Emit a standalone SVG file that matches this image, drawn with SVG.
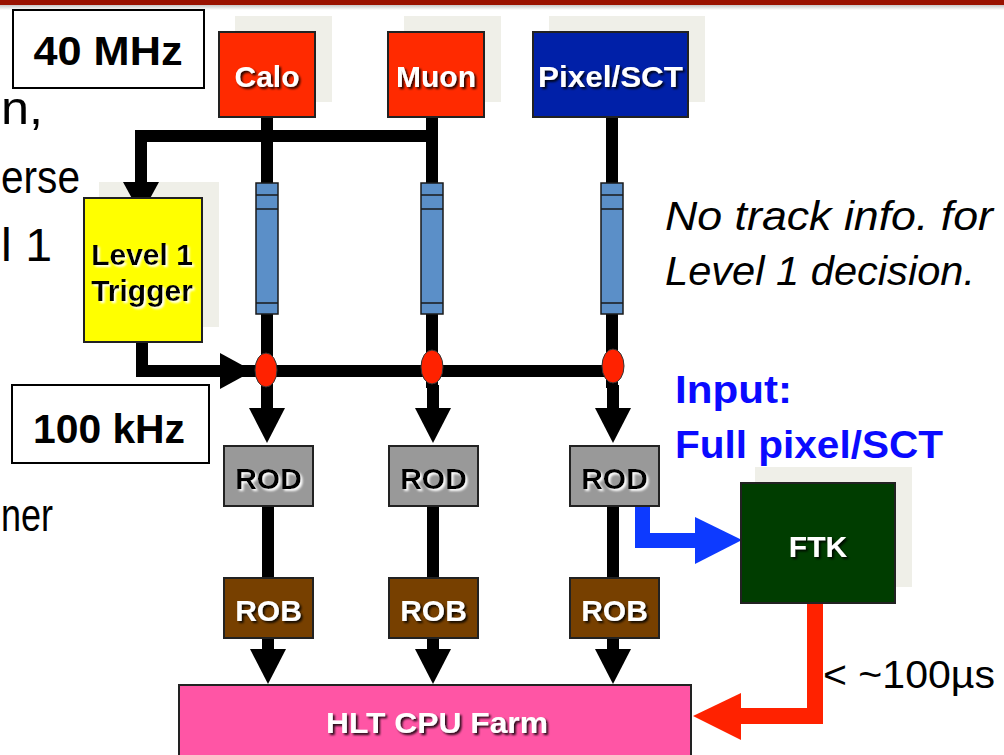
<svg xmlns="http://www.w3.org/2000/svg" width="1004" height="755" viewBox="0 0 1004 755">
<defs>
<filter id="ds" x="-20%" y="-20%" width="140%" height="140%"><feDropShadow dx="2" dy="2" stdDeviation="0.8" flood-color="#000" flood-opacity="0.85"/></filter>
<filter id="ws" x="-20%" y="-20%" width="140%" height="140%"><feDropShadow dx="2" dy="2" stdDeviation="0.8" flood-color="#fff" flood-opacity="1"/></filter>
<linearGradient id="topg" x1="0" y1="0" x2="0" y2="1"><stop offset="0" stop-color="#bbbbbb"/><stop offset="1" stop-color="#ffffff"/></linearGradient>
</defs>
<style>
.sh{fill:#efefe8}
.box{stroke:#222;stroke-width:2}
.wt{font-family:"Liberation Sans",Arial,sans-serif;font-weight:bold;font-size:30px;fill:#fff;text-anchor:middle;filter:url(#ds)}
.bt{font-family:"Liberation Sans",Arial,sans-serif;font-weight:bold;font-size:30px;fill:#000;text-anchor:middle;filter:url(#ws)}
.bg{font-family:"Liberation Sans",Arial,sans-serif;font-size:47px;fill:#000}
.rate{font-family:"Liberation Sans",Arial,sans-serif;font-weight:bold;font-size:40px;fill:#000;text-anchor:middle}
.ln{stroke:#000;stroke-width:12;fill:none}
.det{fill:#5b8fc8;stroke:#1a1a1a;stroke-width:1.5}
.band{stroke:#1a1a1a;stroke-width:1.5}
.node{fill:#ff2200;stroke:#333;stroke-width:1}
</style>
<rect x="0" y="0" width="1004" height="755" fill="#fff"/>
<rect x="0" y="4" width="1004" height="6" fill="url(#topg)"/>
<rect x="0" y="0" width="1004" height="5" fill="#991100"/>

<!-- background slide text fragments -->
<text class="bg" x="1" y="124" textLength="42" lengthAdjust="spacingAndGlyphs">n,</text>
<text class="bg" x="1" y="193" textLength="79" lengthAdjust="spacingAndGlyphs">erse</text>
<text class="bg" x="1" y="261" textLength="51" lengthAdjust="spacingAndGlyphs">l 1</text>
<text class="bg" x="1" y="531" textLength="52" lengthAdjust="spacingAndGlyphs">ner</text>

<g id="rate40">
<rect x="13" y="10" width="191" height="78" fill="#fff" stroke="#000" stroke-width="2"/>
<text class="rate" x="108" y="65" textLength="149" lengthAdjust="spacingAndGlyphs">40 MHz</text>
</g>
<g id="rate100">
<rect x="12" y="385" width="197" height="78" fill="#fff" stroke="#000" stroke-width="2"/>
<text class="rate" x="109" y="443" textLength="152" lengthAdjust="spacingAndGlyphs">100 kHz</text>
</g>

<g id="note">
<text font-family="'Liberation Sans',Arial,sans-serif" font-style="italic" font-size="40" fill="#000" x="665" y="230" textLength="328" lengthAdjust="spacingAndGlyphs">No track info. for</text>
<text font-family="'Liberation Sans',Arial,sans-serif" font-style="italic" font-size="40" fill="#000" x="665" y="285" textLength="310" lengthAdjust="spacingAndGlyphs">Level 1 decision.</text>
</g>
<g id="input-note">
<text font-family="'Liberation Sans',Arial,sans-serif" font-weight="bold" font-size="38" fill="#0a0aff" x="675" y="403" textLength="117" lengthAdjust="spacingAndGlyphs">Input:</text>
<text font-family="'Liberation Sans',Arial,sans-serif" font-weight="bold" font-size="38" fill="#0a0aff" x="675" y="458" textLength="268" lengthAdjust="spacingAndGlyphs">Full pixel/SCT</text>
</g>

<!-- shadows -->
<rect class="sh" x="235" y="16" width="97" height="86"/>
<rect class="sh" x="404" y="16" width="97" height="86"/>
<rect class="sh" x="549" y="16" width="156" height="86"/>
<rect class="sh" x="99" y="182" width="120" height="145"/>
<rect class="sh" x="755" y="467" width="157" height="120"/>

<g id="connectors">
<path class="ln" d="M141 182 V136 H438"/>
<path class="ln" d="M267 117 V183 M267 314 V390"/>
<path class="ln" d="M432 117 V183 M432 314 V388"/>
<path class="ln" d="M612 117 V183 M612 314 V388"/>
<path class="ln" d="M142 342 V371 H612"/>
<polygon points="123,182 159,182 141,215" fill="#000"/>
<polygon points="220,353 220,389 253,371" fill="#000"/>
<path class="ln" d="M267 385 V410 M433 385 V410 M613 385 V410"/>
<polygon points="249,408 285,408 267,443" fill="#000"/>
<polygon points="415,408 451,408 433,443" fill="#000"/>
<polygon points="595,408 631,408 613,443" fill="#000"/>
<path class="ln" d="M268 506 V578 M433 506 V578 M613 506 V578"/>
<path class="ln" d="M268 638 V651 M433 638 V651 M613 638 V651"/>
<polygon points="250,649 286,649 268,684" fill="#000"/>
<polygon points="415,649 451,649 433,684" fill="#000"/>
<polygon points="595,649 631,649 613,684" fill="#000"/>
<path d="M642.5 506 V540.5 H700" stroke="#0d3aff" stroke-width="15" fill="none"/>
<polygon points="695,517 695,564 742,540" fill="#0d3aff"/>
<path d="M815 603 V716 H738" stroke="#ff2200" stroke-width="16" fill="none"/>
<polygon points="741,693 741,740 693,716" fill="#ff2200"/>
</g>

<g id="detectors">
<g id="det-calo"><rect class="det" x="256" y="183" width="22" height="131"/><path class="band" d="M256 195 H278 M256 209 H278 M256 303 H278"/></g>
<g id="det-muon"><rect class="det" x="421" y="183" width="22" height="131"/><path class="band" d="M421 195 H443 M421 209 H443 M421 303 H443"/></g>
<g id="det-pixel"><rect class="det" x="601" y="183" width="22" height="131"/><path class="band" d="M601 195 H623 M601 209 H623 M601 303 H623"/></g>
</g>
<g id="junctions">
<ellipse class="node" cx="266" cy="370" rx="11" ry="17"/>
<ellipse class="node" cx="432" cy="367" rx="11" ry="17"/>
<ellipse class="node" cx="613" cy="366" rx="11" ry="17"/>
</g>

<g id="calo"><rect class="box" x="219" y="32" width="96" height="85" fill="#ff2a00"/><text class="wt" x="267" y="87">Calo</text></g>
<g id="muon"><rect class="box" x="388" y="32" width="96" height="85" fill="#ff2a00"/><text class="wt" x="436" y="87">Muon</text></g>
<g id="pixel"><rect class="box" x="533" y="32" width="155" height="85" fill="#0020a8"/><text class="wt" x="610.5" y="87" textLength="145" lengthAdjust="spacingAndGlyphs">Pixel/SCT</text></g>
<g id="level1"><rect class="box" x="84" y="198" width="118" height="144" fill="#ffff00"/><text class="bt" x="142" y="265">Level 1</text><text class="bt" x="142" y="301">Trigger</text></g>

<g id="rod-calo"><rect class="box" x="224" y="446" width="89" height="60" fill="#999"/><text class="bt" x="268.5" y="489">ROD</text></g>
<g id="rod-muon"><rect class="box" x="389" y="446" width="89" height="60" fill="#999"/><text class="bt" x="433.5" y="489">ROD</text></g>
<g id="rod-pixel"><rect class="box" x="570" y="446" width="89" height="60" fill="#999"/><text class="bt" x="614.5" y="489">ROD</text></g>

<g id="rob-calo"><rect class="box" x="224" y="578" width="89" height="60" fill="#774000"/><text class="wt" x="268.5" y="621">ROB</text></g>
<g id="rob-muon"><rect class="box" x="389" y="578" width="89" height="60" fill="#774000"/><text class="wt" x="433.5" y="621">ROB</text></g>
<g id="rob-pixel"><rect class="box" x="570" y="578" width="89" height="60" fill="#774000"/><text class="wt" x="614.5" y="621">ROB</text></g>

<g id="ftk"><rect class="box" x="741" y="483" width="154" height="120" fill="#003d00"/><text class="wt" x="818" y="557">FTK</text></g>
<g id="hlt"><rect class="box" x="179" y="685" width="512" height="80" fill="#ff55a5"/><text class="wt" x="437" y="733" textLength="222" lengthAdjust="spacingAndGlyphs">HLT CPU Farm</text></g>

<text font-family="'Liberation Sans',Arial,sans-serif" font-size="38" fill="#000" x="823" y="688" textLength="172" lengthAdjust="spacingAndGlyphs">&lt; ~100µs</text>
</svg>
